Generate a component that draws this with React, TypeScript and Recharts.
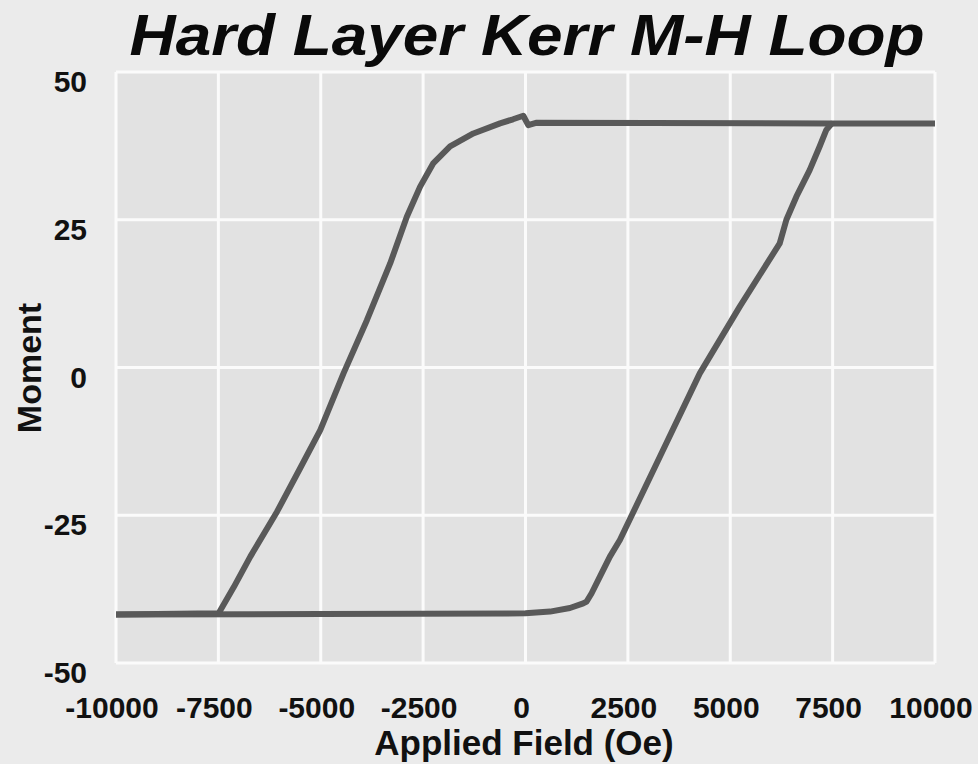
import { LineChart, Line, XAxis, YAxis, CartesianGrid } from 'recharts';

// upper branch of the loop (field sweeping down), listed by ascending field
const upperField = [-10000, -7493, -7127, -6720, -6068, -5500, -5012, -4444, -3873, -3305, -2898, -2573, -2249, -1842, -1273, -622, -305, -54, 68, 256, 7468, 10000];
const upperMoment = [-41.8, -41.6, -37.2, -32.0, -24.4, -17.0, -10.6, -1.0, 8.0, 17.6, 25.5, 30.6, 34.6, 37.4, 39.6, 41.3, 42.0, 42.6, 41.0, 41.4, 41.3, 41.3];

// lower branch of the loop (field sweeping up)
const lowerField = [-10000, -5000, 0, 600, 1085, 1410, 1493, 1615, 1817, 2061, 2305, 3281, 4256, 5232, 6208, 6371, 6614, 6939, 7183, 7346, 7468];
const lowerMoment = [-41.8, -41.7, -41.6, -41.3, -40.7, -39.9, -39.6, -38.2, -35.4, -32.0, -29.2, -15.1, -1.0, 10.3, 21.0, 25.0, 28.9, 33.4, 37.4, 40.2, 41.2];

const xTicks = [-10000, -7500, -5000, -2500, 0, 2500, 5000, 7500, 10000];
const yTicks = [-50, -25, 0, 25, 50];

const upperData = upperField.map((field, i) => ({ field, moment: upperMoment[i] }));
const lowerData = lowerField.map((field, i) => ({ field, moment: lowerMoment[i] }));

const FONT = '"Liberation Sans", Arial, Helvetica, sans-serif';

function XTick({ x, y, payload }: any) {
  return (
    <text x={x - 4} y={y + 53} textAnchor="middle" fontFamily={FONT} fontWeight="bold" fontSize={30} fill="#111">
      {payload.value}
    </text>
  );
}

function YTick({ x, y, payload }: any) {
  return (
    <text x={x - 27} y={y + 20} textAnchor="end" fontFamily={FONT} fontWeight="bold" fontSize={30} fill="#111">
      {payload.value}
    </text>
  );
}

export default function App() {
  return (
    <div style={{ position: 'absolute', left: 0, top: 0, width: 978, height: 764, background: '#ebebeb', overflow: 'hidden' }}>
      <LineChart width={978} height={764} margin={{ top: 72, right: 43, bottom: 0, left: 0 }}>
        <CartesianGrid fill="#e2e2e2" stroke="#fbfbfb" strokeWidth={3} />
        <XAxis
          type="number"
          dataKey="field"
          domain={[-10000, 10000]}
          ticks={xTicks}
          allowDataOverflow
          axisLine={false}
          tickLine={false}
          tickSize={0}
          height={101}
          tick={<XTick />}
        />
        <YAxis
          type="number"
          dataKey="moment"
          domain={[-50, 50]}
          ticks={yTicks}
          allowDataOverflow
          axisLine={false}
          tickLine={false}
          tickSize={0}
          width={116}
          tick={<YTick />}
        />
        <Line data={upperData} dataKey="moment" type="linear" stroke="#595959" strokeWidth={6} strokeLinejoin="round" strokeLinecap="round" dot={false} isAnimationActive={false} />
        <Line data={lowerData} dataKey="moment" type="linear" stroke="#595959" strokeWidth={6} strokeLinejoin="round" strokeLinecap="round" dot={false} isAnimationActive={false} />
      </LineChart>
      <svg width={978} height={764} style={{ position: 'absolute', left: 0, top: 0, pointerEvents: 'none' }}>
        <text x={527} y={55} textAnchor="middle" fontFamily={FONT} fontWeight="bold" fontStyle="italic" fontSize={58} fill="#0a0a0a" textLength={795} lengthAdjust="spacingAndGlyphs">
          Hard Layer Kerr M-H Loop
        </text>
        <text x={524} y={755} textAnchor="middle" fontFamily={FONT} fontWeight="bold" fontSize={35} fill="#111">
          Applied Field (Oe)
        </text>
        <text transform="translate(41, 368) rotate(-90)" textAnchor="middle" fontFamily={FONT} fontWeight="bold" fontSize={34} fill="#111">
          Moment
        </text>
      </svg>
    </div>
  );
}
